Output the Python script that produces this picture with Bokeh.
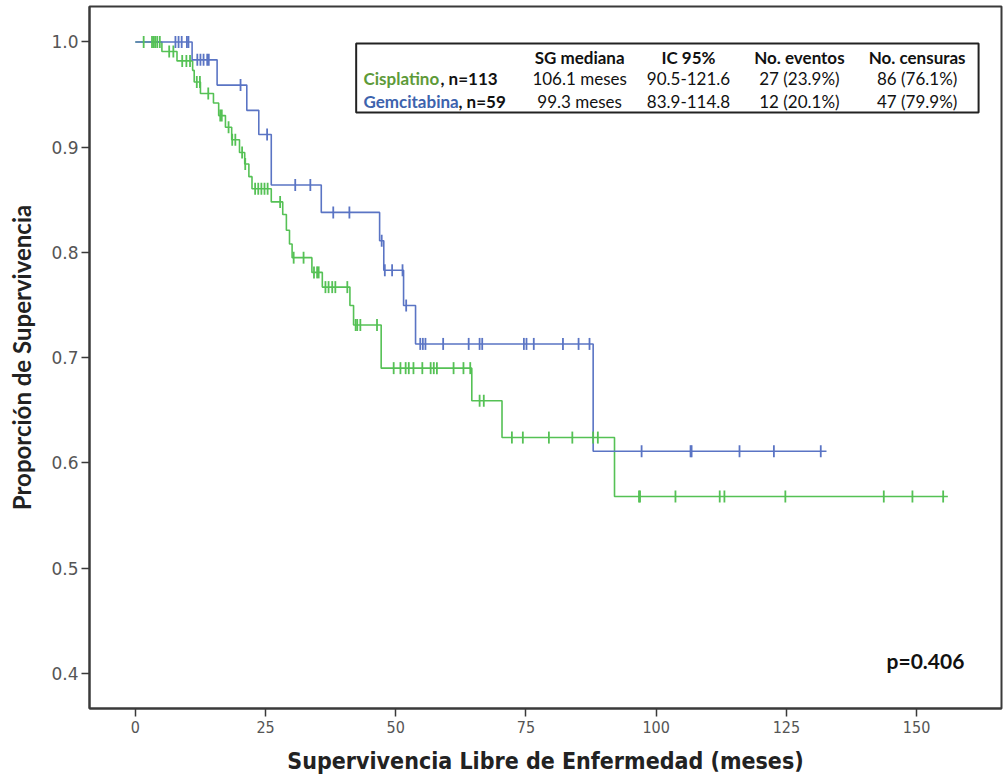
import numpy as np
from bokeh.plotting import figure
from bokeh.models import ColumnDataSource, Label, BoxAnnotation, FixedTicker, CustomJSTickFormatter
from bokeh.embed import file_html
from bokeh.resources import INLINE

# ---- data ----
cis_times = [0, 5.1, 8.0, 11.0, 11.3, 12.5, 15.0, 16.0, 17.3, 18.5, 20.0, 21.0, 21.8, 22.4,
             26.1, 28.3, 29.0, 29.6, 30.1, 33.9, 35.9, 41.2, 41.9, 47.2, 64.6, 70.4, 92.0, 156.0]
cis_surv = [1.0, 0.991, 0.982, 0.973, 0.962, 0.951, 0.942, 0.930, 0.919, 0.907, 0.895, 0.884, 0.872, 0.8605,
            0.848, 0.836, 0.821, 0.808, 0.795, 0.781, 0.767, 0.7495, 0.731, 0.690, 0.659, 0.624, 0.568, 0.568]
cis_censor = [1.6, 3.2, 3.5, 3.8, 4.2, 4.7, 6.5, 7.3, 9.0, 9.8, 10.5, 11.8, 12.4, 14.0, 16.3, 16.6,
              17.9, 18.6, 19.2, 20.5, 21.1, 23.0, 23.6, 24.2, 24.8, 25.4, 27.8, 30.4, 32.3, 34.3,
              34.9, 35.2, 36.5, 37.1, 37.8, 38.4, 40.7, 42.3, 42.6, 43.2, 46.4, 49.6, 50.9, 51.9,
              52.5, 53.4, 55.1, 56.7, 57.3, 57.9, 61.1, 63.0, 64.3, 66.1, 66.9, 72.3, 74.4, 79.4,
              83.9, 87.9, 88.8, 96.7, 96.9, 103.7, 112.2, 113.1, 124.8, 143.7, 149.2, 155.1]

gem_times = [0, 10.9, 15.7, 21.4, 23.7, 26.1, 35.7, 46.9, 47.7, 51.5, 53.8, 87.9, 132.7]
gem_surv = [1.0, 0.983, 0.959, 0.935, 0.912, 0.864, 0.838, 0.811, 0.783, 0.7495, 0.713, 0.611, 0.611]
gem_censor = [7.7, 8.3, 8.9, 9.9, 10.2, 11.9, 12.5, 13.1, 13.8, 14.1, 20.2, 25.3, 30.7, 33.6,
              38.0, 41.1, 47.3, 47.9, 49.3, 51.3, 52.0, 54.7, 55.2, 55.7, 59.1, 64.0, 66.1, 66.6,
              74.6, 75.1, 76.5, 82.1, 85.1, 87.2, 97.2, 106.6, 106.8, 116.0, 122.6, 131.6]

x_ticks = [0, 25, 50, 75, 100, 125, 150]
y_ticks = [0.4, 0.5, 0.6, 0.7, 0.8, 0.9, 1.0]

table_header = ["SG mediana", "IC 95%", "No. eventos", "No. censuras"]
table_cis = ["106.1 meses", "90.5-121.6", "27 (23.9%)", "86 (76.1%)"]
table_gem = ["99.3 meses", "83.9-114.8", "12 (20.1%)", "47 (79.9%)"]
p_value = "p=0.406"

GREEN = "#55c155"
BLUE = "#5a74c4"
GREEN_TXT = "#5d9a38"
BLUE_TXT = "#3d63ad"
FRAME = "#3a3a3a"


def lookup(times, surv, xs):
    idx = np.searchsorted(np.array(times), np.array(xs), side="right") - 1
    return [surv[i] for i in idx]


p = figure(width=1003, height=776, x_range=(-8.8, 166.3), y_range=(0.3665, 1.0337),
           output_backend="svg", toolbar_location=None,
           min_border_left=89, min_border_right=2, min_border_top=6, min_border_bottom=68)
p.background_fill_color = "white"
p.border_fill_color = "white"
p.outline_line_color = FRAME
p.outline_line_width = 2
p.grid.visible = False

# curves
p.step(cis_times, cis_surv, mode="after", line_color=GREEN, line_width=1.6)
p.step(gem_times, gem_surv, mode="after", line_color=BLUE, line_width=1.6)

cis_src = ColumnDataSource(dict(x=cis_censor, y=lookup(cis_times, cis_surv, cis_censor)))
gem_src = ColumnDataSource(dict(x=gem_censor, y=lookup(gem_times, gem_surv, gem_censor)))
p.scatter("x", "y", source=cis_src, marker="dash", size=12, angle=np.pi / 2,
          line_color=GREEN, line_width=1.8)
p.scatter("x", "y", source=gem_src, marker="dash", size=12, angle=np.pi / 2,
          line_color=BLUE, line_width=1.8)

# axes
p.xaxis.ticker = FixedTicker(ticks=x_ticks)
p.yaxis.ticker = FixedTicker(ticks=y_ticks)
p.yaxis.formatter = CustomJSTickFormatter(code="return tick.toFixed(1);")
for ax in (p.xaxis[0], p.yaxis[0]):
    ax.axis_line_color = FRAME
    ax.axis_line_width = 2
    ax.major_tick_line_color = FRAME
    ax.major_tick_line_width = 1.5
    ax.major_tick_out = 8
    ax.major_tick_in = 0
    ax.minor_tick_line_color = None
    ax.major_label_text_color = "#555555"
    ax.axis_label_text_color = "#222222"
    ax.axis_label_text_font_style = "bold"

p.xaxis.major_label_text_font = "DejaVu Sans Condensed"
p.xaxis.major_label_text_font_size = "16px"
p.xaxis.major_label_standoff = 4
p.xaxis.axis_label = "Supervivencia Libre de Enfermedad (meses)"
p.xaxis.axis_label_text_font = "DejaVu Sans Condensed"
p.xaxis.axis_label_text_font_size = "23px"
p.xaxis.axis_label_standoff = 12

p.yaxis.major_label_text_font = "DejaVu Sans"
p.yaxis.major_label_text_font_size = "17px"
p.yaxis.major_label_standoff = 3
p.yaxis.axis_label = "Proporción de Supervivencia"
p.yaxis.axis_label_text_font = "Lato"
p.yaxis.axis_label_text_font_size = "24px"
p.yaxis.axis_label_standoff = 12

# table box
p.add_layout(BoxAnnotation(left=42.4, right=161.9, top=0.9986, bottom=0.933,
                           fill_color="white", fill_alpha=1.0,
                           line_color="#222222", line_width=2, line_alpha=1.0))

col_x = [85.3, 106.2, 127.5, 150.1]
row_y = [0.9849, 0.9650, 0.9431]
FONT = "Lato"
FS = "17px"
for cx, h, a, b in zip(col_x, table_header, table_cis, table_gem):
    p.add_layout(Label(x=cx, y=row_y[0], text=h, text_align="center", text_baseline="middle",
                       text_font=FONT, text_font_size=FS, text_font_style="bold",
                       text_color="#111111"))
    p.add_layout(Label(x=cx, y=row_y[1], text=a, text_align="center", text_baseline="middle",
                       text_font=FONT, text_font_size=FS, text_color="#111111"))
    p.add_layout(Label(x=cx, y=row_y[2], text=b, text_align="center", text_baseline="middle",
                       text_font=FONT, text_font_size=FS, text_color="#111111"))

lx = 43.8
p.add_layout(Label(x=lx, y=row_y[1], text="Cisplatino", text_align="left", text_baseline="middle",
                   text_font=FONT, text_font_size=FS, text_font_style="bold", text_color=GREEN_TXT))
p.add_layout(Label(x=lx, y=row_y[1], x_offset=77, text=", n=113", text_align="left",
                   text_baseline="middle", text_font=FONT, text_font_size=FS,
                   text_font_style="bold", text_color="#111111"))
p.add_layout(Label(x=lx, y=row_y[2], text="Gemcitabina", text_align="left", text_baseline="middle",
                   text_font=FONT, text_font_size=FS, text_font_style="bold", text_color=BLUE_TXT))
p.add_layout(Label(x=lx, y=row_y[2], x_offset=95, text=", n=59", text_align="left",
                   text_baseline="middle", text_font=FONT, text_font_size=FS,
                   text_font_style="bold", text_color="#111111"))

p.add_layout(Label(x=151.7, y=0.412, text=p_value, text_align="center", text_baseline="middle",
                   text_font=FONT, text_font_size="21px", text_font_style="bold",
                   text_color="#111111"))

open("out.html", "w").write(file_html(p, INLINE))
